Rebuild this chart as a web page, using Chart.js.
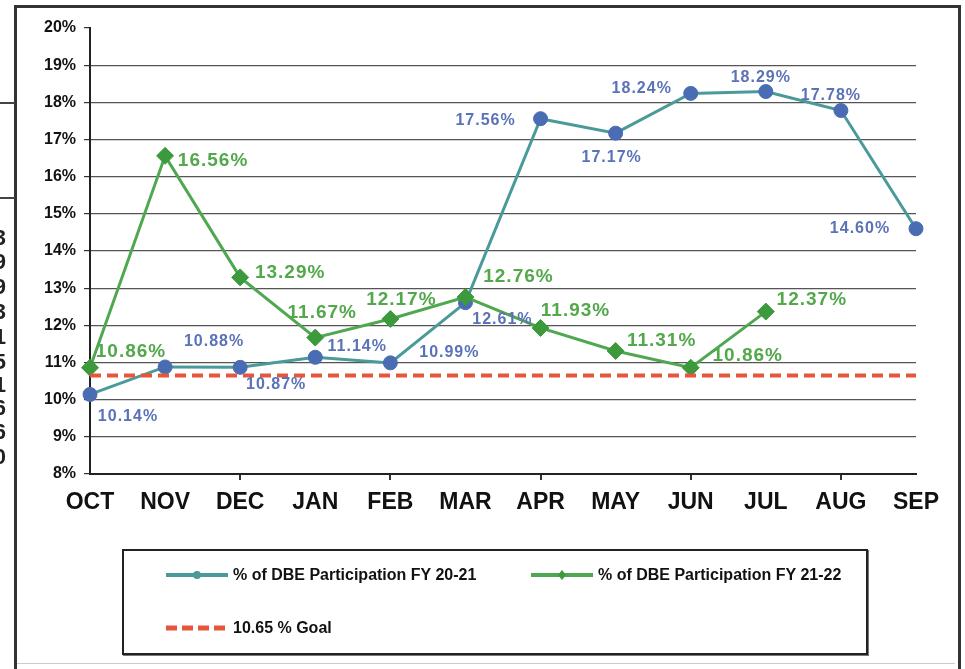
<!DOCTYPE html>
<html>
<head>
<meta charset="utf-8">
<script src="https://cdn.jsdelivr.net/npm/chart.js@4"></script>
<style>
  body { margin: 0; background: #fff; font-family: "Liberation Sans", Arial, sans-serif; }
  #pagina { position: relative; width: 965px; height: 669px; overflow: hidden; background: #fff; }
  #grafico { position: absolute; left: 0; top: 0; }
  .moldura { position: absolute; left: 14px; top: 5px; width: 941px; height: 700px; border: 3px solid #333; pointer-events: none; }
  .rodape { position: absolute; left: 17px; top: 663px; width: 938px; height: 0; border-top: 1px solid #ccc; }
  .risco { position: absolute; left: 0; width: 15px; height: 0; border-top: 2px solid #444; }
  .sobra { position: absolute; right: 959px; font: bold 22px "Liberation Sans", Arial; color: #222; line-height: 22px; }
  #legenda { position: absolute; left: 122px; top: 549px; width: 742px; height: 102px; border: 2px solid #222; box-shadow: 1px 1px 0 #777; }
  .item { position: absolute; display: flex; align-items: center; font: bold 16px "Liberation Sans", Arial; color: #111; white-space: nowrap; }
  .item svg { margin-right: 5px; }
</style>
</head>
<body>
<div id="pagina">
  <canvas id="grafico" width="965" height="669"></canvas>
  <div class="moldura"></div>
  <div class="rodape"></div>
  <div class="risco" style="top:102px"></div>
  <div class="risco" style="top:197px"></div>
  <div class="sobra" style="top:227px">3</div>
  <div class="sobra" style="top:251px">9</div>
  <div class="sobra" style="top:276px">9</div>
  <div class="sobra" style="top:301px">3</div>
  <div class="sobra" style="top:326px">1</div>
  <div class="sobra" style="top:351px">5</div>
  <div class="sobra" style="top:374px">1</div>
  <div class="sobra" style="top:397px">6</div>
  <div class="sobra" style="top:421px">6</div>
  <div class="sobra" style="top:446px">0</div>

  <div id="legenda">
    <div class="item" style="left:42px; top:15px">
      <svg width="62" height="14"><line x1="0" y1="7" x2="62" y2="7" stroke="#4a9a9a" stroke-width="4"/><circle cx="31" cy="7" r="4" fill="#4a9a9a"/></svg>
      <span>% of DBE Participation FY 20-21</span>
    </div>
    <div class="item" style="left:407px; top:15px">
      <svg width="62" height="14"><line x1="0" y1="7" x2="62" y2="7" stroke="#4fa84f" stroke-width="4"/><polygon points="31,2 35,7 31,12 27,7" fill="#3c9a3c"/></svg>
      <span>% of DBE Participation FY 21-22</span>
    </div>
    <div class="item" style="left:42px; top:68px">
      <svg width="62" height="14"><line x1="0" y1="7" x2="62" y2="7" stroke="#e8553d" stroke-width="5" stroke-dasharray="11 5"/></svg>
      <span>10.65 % Goal</span>
    </div>
  </div>
</div>

<script>
// dados
let meses = ["OCT", "NOV", "DEC", "JAN", "FEB", "MAR", "APR", "MAY", "JUN", "JUL", "AUG", "SEP"];
let dbe2021 = [10.14, 10.88, 10.87, 11.14, 10.99, 12.61, 17.56, 17.17, 18.24, 18.29, 17.78, 14.60];
let dbe2122 = [10.86, 16.56, 13.29, 11.67, 12.17, 12.76, 11.93, 11.31, 10.86, 12.37, null, null];
let meta = [10.65, 10.65, 10.65, 10.65, 10.65, 10.65, 10.65, 10.65, 10.65, 10.65, 10.65, 10.65];
let nomes = ["% of DBE Participation FY 20-21", "% of DBE Participation FY 21-22", "10.65 % Goal"];

// deslocamento dos rotulos em relacao ao ponto (dx, dy)
let desloc2021 = [[38, 22], [49, -25], [36, 17], [42, -11], [59, -10], [37, 17], [-55, 2], [-4, 24], [-49, -5], [-5, -14], [-10, -15], [-56, 0]];
let desloc2122 = [[41, -16], [48, 5], [50, -5], [7, -25], [11, -19], [53, -20], [35, -17], [46, -10], [57, -12], [46, -12], null, null];

let fonte = "'Liberation Sans', Arial, sans-serif";

// plugin simples para escrever os valores
const rotulos = {
  id: "rotulos",
  afterDatasetsDraw(chart) {
    let ctx = chart.ctx;
    chart.data.datasets.forEach((ds, i) => {
      if (!ds.rotulo) return;
      let pontos = chart.getDatasetMeta(i).data;
      pontos.forEach((pt, j) => {
        let valor = ds.data[j];
        if (valor == null) return;
        let d = ds.rotulo.desloc[j];
        ctx.save();
        ctx.font = ds.rotulo.font;
        ctx.fillStyle = ds.rotulo.cor;
        ctx.textAlign = "center";
        ctx.textBaseline = "middle";
        ctx.letterSpacing = "1px";
        ctx.fillText(valor.toFixed(2) + "%", pt.x + d[0], pt.y + d[1]);
        ctx.restore();
      });
    });
  },
};

let grafico = new Chart(document.getElementById("grafico"), {
  type: "line",
  data: {
    labels: meses,
    datasets: [
      {
        label: nomes[2],
        data: meta,
        borderColor: "#e8553d",
        borderWidth: 4,
        borderDash: [11, 6],
        pointRadius: 0,
      },
      {
        label: nomes[1],
        data: dbe2122,
        borderColor: "#4fa84f",
        borderWidth: 3,
        pointStyle: "rectRot",
        pointRadius: 8.5,
        pointBackgroundColor: "#3c9a3c",
        pointBorderColor: "#3c9a3c",
        pointBorderWidth: 1,
        spanGaps: false,
        rotulo: { desloc: desloc2122, cor: "#52a84a", font: "bold 19px " + fonte },
      },
      {
        label: nomes[0],
        data: dbe2021,
        borderColor: "#4a9a9a",
        borderWidth: 3,
        pointRadius: 7,
        pointBackgroundColor: "#4a6cb3",
        pointBorderColor: "#4a6cb3",
        pointBorderWidth: 1,
        rotulo: { desloc: desloc2021, cor: "#5a72b8", font: "bold 16px " + fonte },
      },
    ],
  },
  options: {
    responsive: false,
    animation: false,
    layout: {
      padding: { left: 0, right: 49, top: 28, bottom: 150 },
    },
    plugins: {
      legend: { display: false },
      tooltip: { enabled: false },
    },
    scales: {
      x: {
        offset: false,
        border: { color: "#222", width: 2 },
        grid: {
          drawOnChartArea: false,
          drawTicks: true,
          tickLength: 6,
          lineWidth: 2,
          tickColor: (c) => ([2, 4, 6, 8, 10].includes(c.index) ? "#333" : "rgba(0,0,0,0)"),
        },
        ticks: {
          color: "#111",
          padding: 9,
          autoSkip: false,
          maxRotation: 0,
          font: { family: fonte, size: 23, weight: "bold" },
        },
        afterFit: (s) => {
          s.height = 45;
        },
      },
      y: {
        min: 8,
        max: 20,
        border: { color: "#222", width: 2 },
        grid: {
          color: (c) => (c.tick && c.tick.value === 20 ? "rgba(0,0,0,0)" : "#555"),
          lineWidth: 1.2,
          tickLength: 6,
          tickColor: "#333",
        },
        ticks: {
          stepSize: 1,
          color: "#111",
          padding: 8,
          font: { family: fonte, size: 16, weight: "bold" },
          callback: (v) => v + "%",
        },
        afterFit: (s) => {
          s.width = 90;
        },
      },
    },
  },
  plugins: [rotulos],
});
</script>
</body>
</html>
